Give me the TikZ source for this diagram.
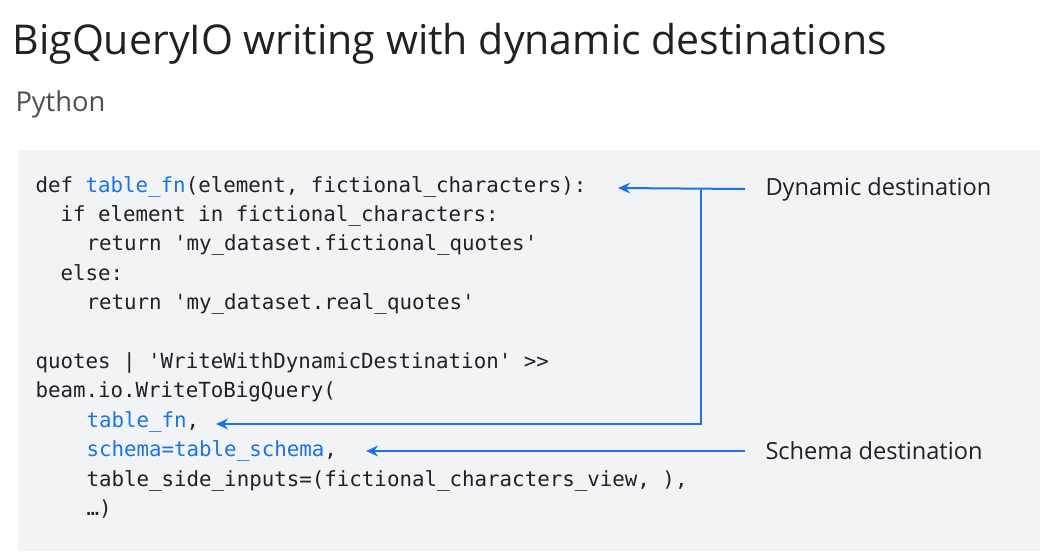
\documentclass[tikz,border=0pt]{standalone}
\usepackage{fontspec}
\setmainfont{Open Sans}
\setmonofont{DejaVu Sans Mono}
\usetikzlibrary{arrows.meta}
\definecolor{gblue}{RGB}{26,115,232}
\definecolor{panel}{RGB}{241,243,244}
\definecolor{ink}{RGB}{32,33,36}
\tikzset{every picture/.style={line width=0.75pt}}
\tikzset{
  codeline/.style={anchor=base west,inner sep=0pt,font=\ttfamily\fontsize{15.6}{18}\selectfont,text=ink},
  hilite/.style={codeline,text=gblue},
  note/.style={anchor=west,inner sep=0pt,font=\fontsize{17.7}{21}\selectfont,text=ink},
  pointer/.style={draw=gblue,line width=1.5,-{Stealth[length=9pt,width=8pt]}}
}
\begin{document}
\begin{tikzpicture}[x=0.75pt,y=0.75pt,yscale=-1,xscale=1]
        \useasboundingbox (0,0) rectangle (1047,551);
        % panel
        \fill [panel] (18,150) rectangle (1040,551);
        % title
        \node [anchor=base west,inner sep=0pt,font=\fontsize{30.8}{36}\selectfont,text=ink] (title) at (12,54) {BigQueryIO writing with dynamic destinations};
        \node [anchor=base west,inner sep=0pt,font=\fontsize{20.5}{24}\selectfont,text=ink!80] (lang) at (15,111) {Python};
        % code
        \node [codeline] (c1) at (35,192) {def \textcolor{gblue}{table\_fn}(element, fictional\_characters):};
        \node [codeline] (c2) at (60,221) {if element in fictional\_characters:};
        \node [codeline] (c3) at (86,250) {return 'my\_dataset.fictional\_quotes'};
        \node [codeline] (c4) at (60,280) {else:};
        \node [codeline] (c5) at (86,309) {return 'my\_dataset.real\_quotes'};
        \node [codeline] (c6) at (35,368) {quotes | 'WriteWithDynamicDestination' >>};
        \node [codeline] (c7) at (35,397) {beam.io.WriteToBigQuery(};
        \node [hilite] (c8) at (86,427) {table\_fn\textcolor{ink}{,}};
        \node [hilite] (c9) at (86,456) {schema=table\_schema\textcolor{ink}{,}};
        \node [codeline] (c10) at (86,486) {table\_side\_inputs=(fictional\_characters\_view, ),};
        \node [codeline] (c11) at (86,515) {…)};
        % notes
        \node [note] (dyn) at (765,189) {Dynamic destination};
        \node [note] (sch) at (765,451) {Schema destination};
        % pointers
        \coordinate (dynend) at (618,188);
        \coordinate (fnend) at (216,424);
        \coordinate (schend) at (366,451);
        \draw [pointer] (dyn.west) ++(-20,0) -- (dynend);
        \draw [pointer] (701,188) -- (701,424) -- (fnend);
        \draw [pointer] (sch.west) ++(-20,0) -- (schend);
\end{tikzpicture}
\end{document}
